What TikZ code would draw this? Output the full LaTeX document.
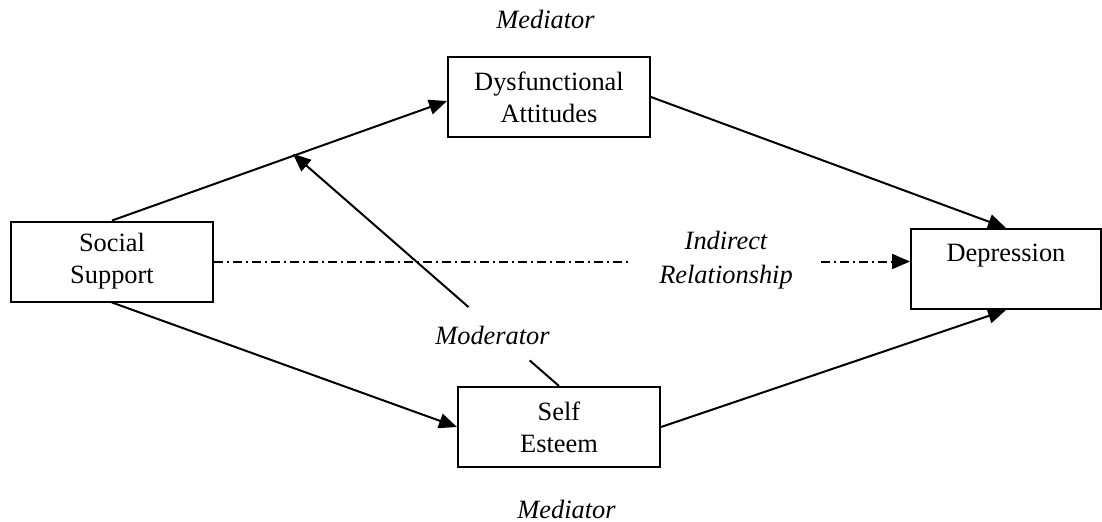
\documentclass[tikz,border=0pt]{standalone}
\usepackage{fontspec}
\setmainfont{Liberation Serif}
\usetikzlibrary{arrows.meta,positioning,calc}

\begin{document}
\begin{tikzpicture}[
  font=\fontsize{13.2}{16}\selectfont,
  box/.style={draw,line width=1pt,align=center,inner sep=0pt,
              minimum width=101pt,minimum height=40pt},
  lbl/.style={font=\fontsize{13.2}{17}\selectfont\itshape,align=center},
  ln/.style={line width=1pt},
  ar/.style={-{Triangle[length=9pt,width=7.5pt]},line width=1pt},
  dd/.style={line width=1pt,dash pattern=on 4.5pt off 2pt on 1pt off 2pt}]
\useasboundingbox (0,0) rectangle (551pt,-260.5pt);
\node[box] (soc) at (56pt,-130.75pt) {Social\\Support};
\node[box,right=116.5pt of soc,yshift=82.25pt] (dys) {Dysfunctional\\Attitudes};
\node[box,right=121.5pt of soc,yshift=-82.75pt] (est) {Self\\Esteem};
\node[box,right=348pt of soc,yshift=-3.75pt,minimum width=95pt] (dep)
  {Depression\\\mbox{}};
\node[lbl] (medtop) at ($(dys.north)+(-1.75pt,18.5pt)$) {Mediator};
\node[lbl] (medbot) at ($(est.south)+(3.75pt,-20.5pt)$) {Mediator};
\node[lbl] (mod) at ($(est.north)+(-33.25pt,25.5pt)$) {Moderator};
\node[lbl,inner xsep=14pt] (ind) at ($(soc.east)+(256pt,0.75pt)$)
  {Indirect\\Relationship};
\coordinate (mtip) at ($(soc.north)!0.54!(dys.west)$);
\draw[ar] (soc.north) -- ([yshift=-2pt]dys.west);
\draw[ar] (dys.east) -- (dep.north);
\draw[ar] (soc.south) -- (est.west);
\draw[ar] (est.east) -- (dep.south);
\draw[dd] (soc.east) -- (soc.east -| ind.west);
\draw[dd,-{Triangle[length=9pt,width=7.5pt]}] (soc.east -| ind.east) -- (soc.east -| dep.west);
\draw[ln] (est.north) -- ($(est.north)!0.11!(mtip)$);
\draw[ar] ($(est.north)!0.34!(mtip)$) -- (mtip);
\end{tikzpicture}
\end{document}
